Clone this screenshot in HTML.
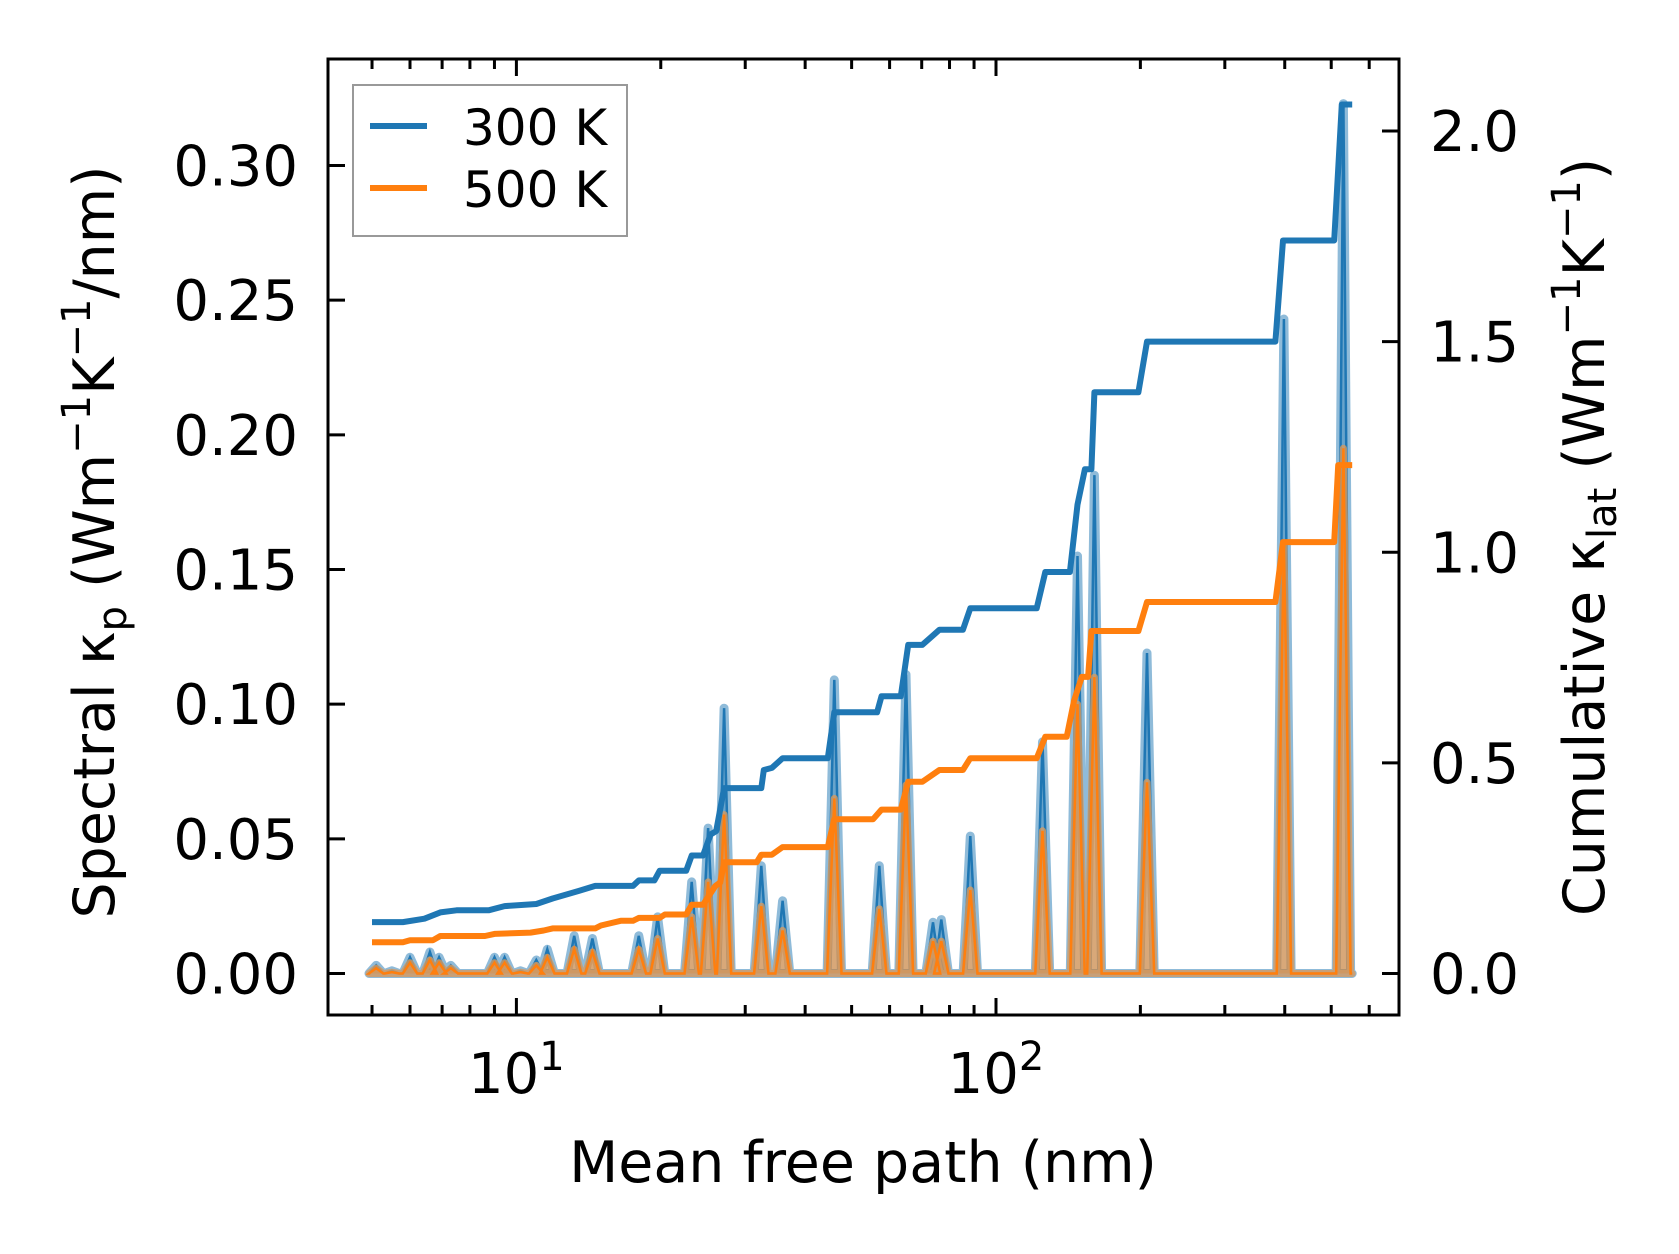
<!DOCTYPE html>
<html><head><meta charset="utf-8">
<style>
html,body{margin:0;padding:0;background:#fff;}
svg{display:block;font-family:"DejaVu Sans","Liberation Sans",sans-serif;}
</style></head>
<body>
<svg id="chart" width="1679" height="1254" viewBox="0 0 1679 1254"></svg>
<script>
// ---- data ----
const cumX300 = [5.0,5.8,6.43,6.94,7.5,8.75,9.45,11.0,11.9,13.5,14.6,17.5,18.0,19.4,19.9,22.6,23.2,24.5,25.4,26.1,27.1,32.4,32.8,34.1,35.9,44.6,46.0,56.5,57.7,63.3,65.6,70.2,76.2,85.3,88.4,121.6,126.7,142.6,147.9,153.2,158.1,160.4,198.1,206.5,382.5,396.6,507.3,526,553];
const cumY300 = [0.122,0.122,0.13,0.145,0.15,0.15,0.16,0.165,0.178,0.196,0.208,0.208,0.221,0.221,0.244,0.244,0.28,0.28,0.33,0.338,0.44,0.44,0.483,0.488,0.511,0.511,0.62,0.62,0.658,0.658,0.78,0.78,0.816,0.816,0.867,0.867,0.953,0.953,1.113,1.197,1.197,1.38,1.38,1.5,1.5,1.74,1.74,2.063,2.063];
const cumX500 = [5.0,5.8,6.0,6.7,6.94,8.6,9.0,10.7,11.4,11.9,14.6,15.0,16.5,17.5,18.0,19.9,20.4,22.6,23.2,24.5,26.0,26.6,27.1,31.7,32.4,34.1,35.9,44.6,46.0,55.4,57.7,63.3,65.6,70.2,76.2,85.3,88.4,121.6,126.7,140.4,145.5,151.0,155.6,158.1,198.1,206.5,382.5,396.6,507.3,517,553];
const cumY500 = [0.074,0.074,0.079,0.079,0.089,0.089,0.094,0.097,0.102,0.107,0.107,0.114,0.125,0.125,0.132,0.132,0.14,0.14,0.163,0.163,0.208,0.216,0.264,0.264,0.282,0.282,0.30,0.30,0.366,0.366,0.389,0.389,0.455,0.455,0.483,0.483,0.511,0.511,0.562,0.562,0.648,0.704,0.704,0.813,0.813,0.882,0.882,1.024,1.024,1.207,1.207];
const peakX   = [5.1,5.5,6.0,6.6,6.9,7.3,9.0,9.45,10.2,11.0,11.6,13.2,14.4,18.0,19.7,23.2,25.1,27.1,32.4,35.9,46.0,57.1,64.9,73.9,76.9,88.4,125.0,147.9,160.4,206.5,398.4,530];
const peak300 = [0.003,0.001,0.006,0.008,0.006,0.003,0.006,0.006,0.001,0.005,0.009,0.014,0.013,0.014,0.021,0.034,0.054,0.0985,0.04,0.027,0.109,0.04,0.111,0.019,0.02,0.051,0.086,0.155,0.185,0.119,0.243,0.323];
const peak500 = [0.002,0.0005,0.004,0.005,0.004,0.002,0.004,0.004,0.0005,0.003,0.006,0.009,0.008,0.009,0.013,0.021,0.034,0.059,0.025,0.016,0.065,0.024,0.07,0.012,0.012,0.031,0.053,0.10,0.11,0.071,0.16,0.195];
const leftTicks = [0,0.05,0.10,0.15,0.20,0.25,0.30];
const leftLabels = ["0.00","0.05","0.10","0.15","0.20","0.25","0.30"];
const rightTicks = [0,0.5,1.0,1.5,2.0];
const rightLabels = ["0.0","0.5","1.0","1.5","2.0"];
const xMajor = [10,100];

// ---- geometry ----
const L=328,R=1399,T=59,B=1015;
const NS="http://www.w3.org/2000/svg";
const svg=document.getElementById('chart');
const xs=v=>516.4+(Math.log10(v)-1)*479.6;
const yl=v=>973.5-v*2693.3;
const yr=v=>973.5-v*421.25;
function el(tag,attrs,parent){const e=document.createElementNS(NS,tag);for(const k in attrs)e.setAttribute(k,attrs[k]);(parent||svg).appendChild(e);return e;}

const defs=el('defs',{});
const cp=el('clipPath',{id:'clip'},defs);
el('rect',{x:L,y:T,width:R-L,height:B-T},cp);
const plot=el('g',{'clip-path':'url(#clip)'});



function spectral(vals){
  const pts=[[xs(peakX[0])-6,yl(0)]];
  for(let i=0;i<peakX.length;i++){
    const lx=Math.log10(peakX[i]);
    pts.push([xs(Math.pow(10,lx-0.015)),yl(0)]);
    pts.push([xs(peakX[i]),yl(vals[i])]);
    pts.push([xs(Math.pow(10,lx+0.015)),yl(0)]);
  }
  pts.push([xs(553),yl(0)]);
  return pts.map(p=>p[0].toFixed(1)+','+p[1].toFixed(1)).join(' ');
}
const s300=spectral(peak300), s500=spectral(peak500);
const f3=el('polygon',{points:s300,fill:'#1f77b4','fill-opacity':0.35,stroke:'#1f77b4','stroke-opacity':0.5,'stroke-width':9,'stroke-linejoin':'round'},plot);


el('polyline',{points:s300,fill:'none',stroke:'#1f77b4','stroke-width':2.5},plot);
const f5=el('polygon',{points:s500,fill:'#ff7f0e','fill-opacity':0.5,stroke:'#d59a60','stroke-opacity':0.8,'stroke-width':7,'stroke-linejoin':'round'},plot);


el('polyline',{points:s500,fill:'none',stroke:'#ff7f0e','stroke-width':2.5},plot);

function cum(xa,ya,color,name){
  const p=xa.map((x,i)=>xs(x).toFixed(1)+','+yr(ya[i]).toFixed(1)).join(' ');
  const l=el('polyline',{points:p,fill:'none',stroke:color,'stroke-width':6,'stroke-linejoin':'round'},plot);
  
  
}
cum(cumX300,cumY300,'#1f77b4','cumulative-300k');
cum(cumX500,cumY500,'#ff7f0e','cumulative-500k');

// spines
const fr=el('rect',{x:L,y:T,width:R-L,height:B-T,fill:'none',stroke:'#000','stroke-width':3});



// x ticks
for(let d=1;d<=100;d*=10){
  for(let m=1;m<10;m++){
    const v=d*m; if(v<4.2||v>600) continue;
    const x=xs(v); const len=(m===1)?17:10;
    el('line',{x1:x,x2:x,y1:B,y2:B-len,stroke:'#000','stroke-width':3});
    el('line',{x1:x,x2:x,y1:T,y2:T+len,stroke:'#000','stroke-width':3});
  }
}
xMajor.forEach((v,i)=>{
  const g=el('text',{x:xs(v),y:1093,'font-size':56,'text-anchor':'middle',fill:'#000'});
  
  
  g.textContent='10';
  const s=el('tspan',{'font-size':40,dy:-23},g); s.textContent=String(i+1);
});
leftTicks.forEach((v,i)=>{
  const y=yl(v);
  el('line',{x1:L,x2:L+17,y1:y,y2:y,stroke:'#000','stroke-width':3});
  const t=el('text',{x:298,y:y+20,'font-size':56,'text-anchor':'end',fill:'#000'});
  
  
  t.textContent=leftLabels[i];
});
rightTicks.forEach((v,i)=>{
  const y=yr(v);
  el('line',{x1:R-17,x2:R,y1:y,y2:y,stroke:'#000','stroke-width':3});
  const t=el('text',{x:1430,y:y+20,'font-size':56,'text-anchor':'start',fill:'#000'});
  
  
  t.textContent=rightLabels[i];
});
</script>
<svg width="1679" height="1254" style="position:absolute;left:0;top:0">
  <text x="863" y="1182" font-size="57" text-anchor="middle" font-family="DejaVu Sans, Liberation Sans, sans-serif">Mean free path (nm)</text>
  <text transform="translate(114,542) rotate(-90)" font-size="57" text-anchor="middle" font-family="DejaVu Sans, Liberation Sans, sans-serif">Spectral κ<tspan font-size="40" dy="12">p</tspan><tspan dy="-12"> (Wm</tspan><tspan font-size="40" dy="-24">−1</tspan><tspan dy="24">K</tspan><tspan font-size="40" dy="-24">−1</tspan><tspan dy="24">/nm)</tspan></text>
  <text transform="translate(1604,537) rotate(-90)" font-size="57" text-anchor="middle" font-family="DejaVu Sans, Liberation Sans, sans-serif">Cumulative κ<tspan font-size="40" dy="12">lat</tspan><tspan dy="-12"> (Wm</tspan><tspan font-size="40" dy="-24">−1</tspan><tspan dy="24">K</tspan><tspan font-size="40" dy="-24">−1</tspan><tspan dy="24">)</tspan></text>
  <g>
    <rect x="353" y="85" width="274" height="151" fill="#fff" fill-opacity="0.8" stroke="#999" stroke-width="2"/>
    <line x1="370" x2="427" y1="126" y2="126" stroke="#1f77b4" stroke-width="6"/>
    <text x="463" y="145" font-size="50" font-family="DejaVu Sans, Liberation Sans, sans-serif">300 K</text>
    <line x1="370" x2="427" y1="188" y2="188" stroke="#ff7f0e" stroke-width="6"/>
    <text x="463" y="207" font-size="50" font-family="DejaVu Sans, Liberation Sans, sans-serif">500 K</text>
  </g>
</svg>
</body></html>
